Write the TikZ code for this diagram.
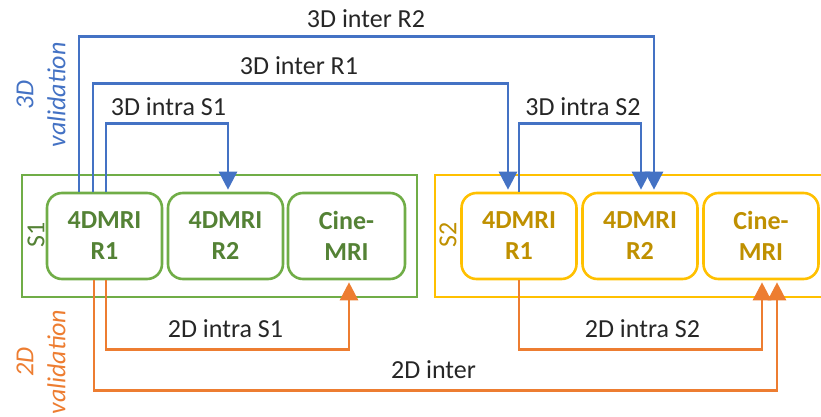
\documentclass[tikz,border=0pt]{standalone}
\usepackage{fontspec}
\setmainfont{Carlito}
\usetikzlibrary{arrows.meta}
\definecolor{cblue}{HTML}{4472C4}
\definecolor{corange}{HTML}{ED7D31}
\definecolor{cgreen}{HTML}{70AD47}
\definecolor{cgreentext}{HTML}{548235}
\definecolor{cgold}{HTML}{FFC000}
\definecolor{cgoldtext}{HTML}{BF9000}
\definecolor{labelgray}{HTML}{262626}
\begin{document}
\begin{tikzpicture}[x=1pt,y=-1pt,
  font=\fontsize{26}{31}\selectfont,
  outerbox/.style={draw, line width=2.6pt, minimum width=395pt, minimum height=122pt, inner sep=0pt},
  innerbox/.style={draw, rounded corners=15pt, line width=2.6pt, minimum width=115pt, minimum height=86pt, align=center, font=\fontsize{26}{31}\selectfont\bfseries, inner sep=0pt},
  conn/.style={line width=2.8pt, shorten >=2pt, -{Triangle[length=18pt,width=18pt]}},
  lbl/.style={text=labelgray, anchor=base, inner sep=0pt},
  sidelbl/.style={rotate=90, inner sep=0pt},
  vallbl/.style={rotate=90, align=center, font=\fontsize{26}{32}\selectfont\itshape, inner sep=0pt}
]
\useasboundingbox (0,0) rectangle (821,417);
\clip (0,0) rectangle (821,417);

% outer site boxes
\node[outerbox, draw=cgreen] (s1) at (219.5,236) {};
\node[outerbox, draw=cgold] (s2) at (632.5,236) {};

% inner boxes
\node[innerbox, draw=cgreen, text=cgreentext] (s1r1) at (104.5,236) {4DMRI\\R1};
\node[innerbox, draw=cgreen, text=cgreentext] (s1r2) at (225.5,236) {4DMRI\\R2};
\node[innerbox, draw=cgreen, text=cgreentext, minimum width=117pt] (s1c) at (346.5,236) {Cine-\\MRI};
\node[innerbox, draw=cgold, text=cgoldtext] (s2r1) at (519,236) {4DMRI\\R1};
\node[innerbox, draw=cgold, text=cgoldtext] (s2r2) at (640,236) {4DMRI\\R2};
\node[innerbox, draw=cgold, text=cgoldtext] (s2c) at (761,236) {Cine-\\MRI};

% side labels
\node[sidelbl, text=cgreentext] (s1lbl) at (36,235) {S1};
\node[sidelbl, text=cgoldtext] (s2lbl) at (448,235) {S2};
\node[vallbl, text=cblue] (v3d) at (41,95) {3D\\validation};
\node[vallbl, text=corange] (v2d) at (41,362) {2D\\validation};

% 3D connectors (blue)
\draw[conn, cblue] ([xshift=-25.5pt]s1r1.north) -- ++(0,-155) -| ([xshift=14pt]s2r2.north);
\draw[conn, cblue] ([xshift=-11.5pt]s1r1.north) -- ++(0,-108) -| ([xshift=-11pt]s2r1.north);
\draw[conn, cblue] ([xshift=1.5pt]s1r1.north) -- ++(0,-68) -| ([xshift=2.5pt]s1r2.north);
\draw[conn, cblue] (s2r1.north) -- ++(0,-68) -| ([xshift=1pt]s2r2.north);

% 2D connectors (orange)
\draw[conn, corange] ([xshift=1.5pt]s1r1.south) -- ++(0,69) -| ([xshift=2.5pt]s1c.south);
\draw[conn, corange] ([xshift=-10.5pt]s1r1.south) -- ++(0,110) -| ([xshift=16pt]s2c.south);
\draw[conn, corange] (s2r1.south) -- ++(0,69) -| ([xshift=1pt]s2c.south);

% connector labels
\node[lbl] (l1) at (366,28) {3D inter R2};
\node[lbl] (l2) at (299,75) {3D inter R1};
\node[lbl] (l3) at (168.5,115) {3D intra S1};
\node[lbl] (l4) at (583,115) {3D intra S2};
\node[lbl] (l5) at (225.5,337) {2D intra S1};
\node[lbl] (l6) at (642.5,337) {2D intra S2};
\node[lbl] (l7) at (433.5,378) {2D inter};
\end{tikzpicture}
\end{document}
